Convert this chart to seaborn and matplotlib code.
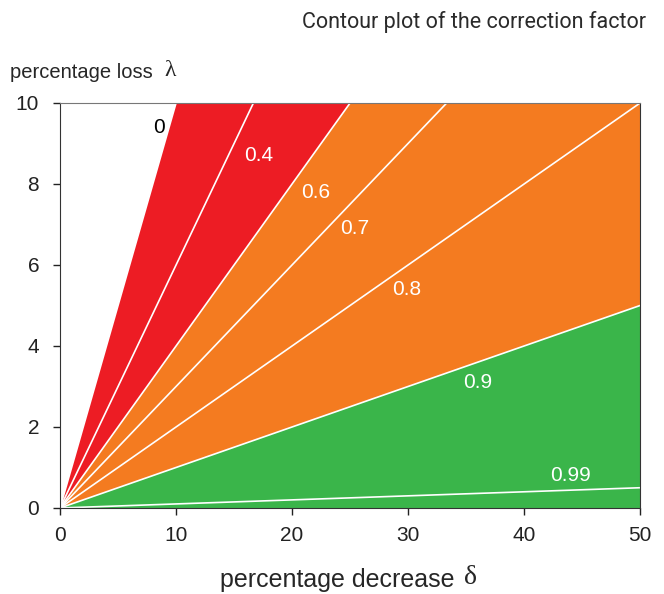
import pandas as pd
import matplotlib.pyplot as plt
import seaborn as sns

# contour levels of the correction factor and where each line leaves the box
levels = [0, 0.4, 0.6, 0.7, 0.8, 0.9, 0.99]
x_end = [10, 16.67, 25, 33.33, 50, 50, 50]
y_end = [10, 10, 10, 10, 10, 5, 0.5]

# label positions
label_x = [8.5, 17.1, 22.0, 25.4, 29.9, 36.0, 44.0]
label_y = [9.4, 8.7, 7.8, 6.9, 5.4, 3.1, 0.8]
label_txt = ["0", "0.4", "0.6", "0.7", "0.8", "0.9", "0.99"]

x_ticks = [0, 10, 20, 30, 40, 50]
y_ticks = [0, 2, 4, 6, 8, 10]

RED = "#ED1C24"
ORANGE = "#F47B20"
GREEN = "#3AB54A"

sns.set_style("ticks")
plt.rcParams["font.family"] = ["Liberation Sans", "DejaVu Sans"]

fig = plt.figure(figsize=(6.64, 5.94), dpi=100)
ax = fig.add_axes([0.0904, 0.1448, 0.8736, 0.6818])

# filled bands between selected contour lines
i0, i6, i9 = levels.index(0), levels.index(0.6), levels.index(0.9)
ax.fill([0, x_end[i0], x_end[i6]], [0, y_end[i0], y_end[i6]], color=RED, lw=0)
ax.fill([0, x_end[i6], 50, x_end[i9]], [0, y_end[i6], 10, y_end[i9]], color=ORANGE, lw=0)
ax.fill([0, x_end[i9], 50], [0, y_end[i9], 0], color=GREEN, lw=0)

# contour lines
rows = []
for lv, xe, ye in zip(levels, x_end, y_end):
    rows.append({"level": lv, "x": 0, "y": 0})
    rows.append({"level": lv, "x": xe, "y": ye})
lines = pd.DataFrame(rows)
sns.lineplot(data=lines, x="x", y="y", units="level", estimator=None,
             color="white", lw=1.2, ax=ax, legend=False)

for tx, ty, t in zip(label_x, label_y, label_txt):
    ax.text(tx, ty, t, ha="center", va="center", fontsize=15,
            color="black" if t == "0" else "white")

ax.set_xlim(0, 50)
ax.set_ylim(0, 10)
ax.set_xticks(x_ticks)
ax.set_yticks(y_ticks)
ax.tick_params(labelsize=15, length=5, width=1, direction="out", colors="#222222")
ax.tick_params(axis="y", pad=10)
ax.tick_params(axis="x", pad=8)
ax.set_xlabel("")
ax.set_ylabel("")
for s in ["left", "bottom", "right"]:
    ax.spines[s].set_visible(True)
    ax.spines[s].set_color("#333333")
ax.spines["top"].set_visible(True)
ax.spines["top"].set_color("#777777")

fig.text(220 / 664, 1 - 580 / 594, "percentage decrease", ha="left", va="center", fontsize=18)
fig.text(464 / 664, 1 - 577 / 594, "\u03b4", ha="left", va="center", fontsize=20,
         family=["Liberation Serif", "DejaVu Serif"])
fig.text(10 / 664, 1 - 72 / 594, "percentage loss", ha="left", va="center", fontsize=14.5)
fig.text(164 / 664, 1 - 71 / 594, "\u03bb", ha="left", va="center", fontsize=17,
         family=["Liberation Serif", "DejaVu Serif"])
fig.text(646 / 664, 1 - 22 / 594, "Contour plot of the correction factor",
         ha="right", va="center", fontsize=15.5, color="#2a2a2a",
         family=["Roboto", "DejaVu Sans"])

fig.savefig("out.png", dpi=100)
